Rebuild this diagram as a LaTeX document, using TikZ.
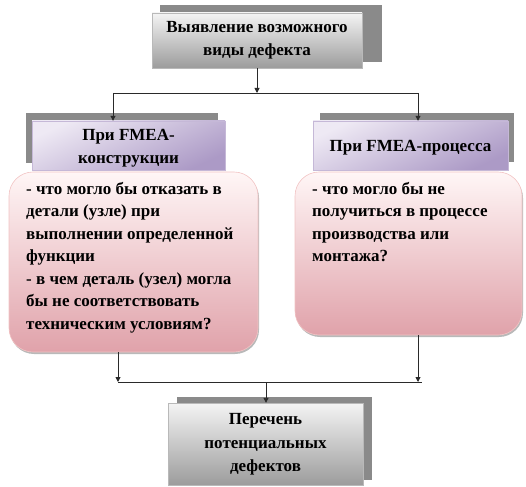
\documentclass[tikz,border=0pt]{standalone}
\usepackage{fontspec}
\setmainfont{Liberation Serif}
\usetikzlibrary{arrows.meta}
\definecolor{shad}{HTML}{8A8A8A}
\definecolor{grayTop}{HTML}{F4F4F4}
\definecolor{grayBot}{HTML}{9C9C9C}
\definecolor{lavTop}{HTML}{EEE9F4}
\definecolor{lavBot}{HTML}{AC9AC6}
\definecolor{pinkTop}{HTML}{FFF6F6}
\definecolor{pinkBot}{HTML}{E0A2AA}
\definecolor{pinkLine}{HTML}{F2C4C4}
\definecolor{lineCol}{HTML}{2A2A2A}
\tikzset{
  txt/.style={font=\bfseries\fontsize{17}{23.5}\selectfont, align=center, inner sep=0pt},
  bodytxt/.style={font=\bfseries\fontsize{17}{22.5}\selectfont, align=left, inner sep=0pt, anchor=north west},
  shadowfill/.style={fill=shad},
  graybox/.style={rectangle, inner sep=0pt, draw=gray!55, line width=0.4pt,
    top color=grayTop, bottom color=grayBot},
  lavbox/.style={rectangle, inner sep=0pt, draw=lavBot!70, line width=0.4pt,
    shading=axis, top color=lavTop, bottom color=lavBot, shading angle=25},
  pinkbox/.style={rectangle, rounded corners=24pt, inner sep=0pt, draw=pinkLine, line width=0.6pt,
    top color=pinkTop, bottom color=pinkBot},
  conn/.style={draw=lineCol, line width=0.9pt},
  arr/.style={conn, -{Triangle[width=5pt,length=5pt]}}
}
\begin{document}
\begin{tikzpicture}[x=1pt,y=-1pt]
\useasboundingbox (0,0) rectangle (526,486);
% shadows
\fill[shadowfill] (160,5) rectangle (382,62);
\fill[shadowfill] (26,113) rectangle (218,163);
\fill[shadowfill] (320,113) rectangle (514,162);
\fill[shadowfill] (177,397) rectangle (372,480);
% top box
\node[graybox, minimum width=210pt, minimum height=55pt] (top) at (257,40.5) {};
\node[txt] (toptxt) at (257,40) {Выявление возможного\\виды дефекта};
% headers
\node[lavbox, minimum width=193pt, minimum height=49pt] (h1) at (128.5,145.5) {};
\node[txt] (h1txt) at (128.5,148) {При FMEA-\\конструкции};
\node[lavbox, minimum width=195pt, minimum height=49pt] (h2) at (410.5,145.5) {};
\node[txt] (h2txt) at (410.5,148) {При FMEA-процесса};
% rounded boxes
\fill[shad!60, rounded corners=24pt] (10,174) rectangle (259,354);
\fill[shad!60, rounded corners=24pt] (296,174) rectangle (523,337);
\node[pinkbox, minimum width=249pt, minimum height=180pt] (r1) at (133.5,262) {};
\node[pinkbox, minimum width=227pt, minimum height=163pt] (r2) at (408.5,253.5) {};
\node[bodytxt] (r1txt) at (26,182) {- что могло бы отказать в\\детали (узле) при\\выполнении определенной\\функции\\- в чем деталь (узел) могла\\бы не соответствовать\\техническим условиям?};
\node[bodytxt] (r2txt) at (312,182) {- что могло бы не\\получиться в процессе\\производства или\\монтажа?};
% bottom box
\node[graybox, minimum width=195pt, minimum height=82pt] (bot) at (265.5,444) {};
\node[txt] (bottxt) at (265.5,444.5) {Перечень\\потенциальных\\дефектов};
% connectors
\coordinate (j1) at (257,93);
\coordinate (jl) at (113,93);
\coordinate (jr) at (418,93);
\coordinate (j2) at (266,382);
\coordinate (kl) at (118,382);
\coordinate (kr) at (418,382);
\coordinate (ke) at (422,382);
\draw[arr] (top.south -| j1) -- (j1);
\draw[conn] (jl) -- (jr);
\draw[arr] (jl) -- (jl |- h1.north);
\draw[arr] (jr) -- (jr |- h2.north);
\draw[arr] (r1.south -| kl) -- (kl);
\draw[arr] (r2.south -| kr) -- (kr);
\draw[conn] (kl) -- (ke);
\draw[arr] (j2) -- (j2 |- bot.north);
\end{tikzpicture}
\end{document}
